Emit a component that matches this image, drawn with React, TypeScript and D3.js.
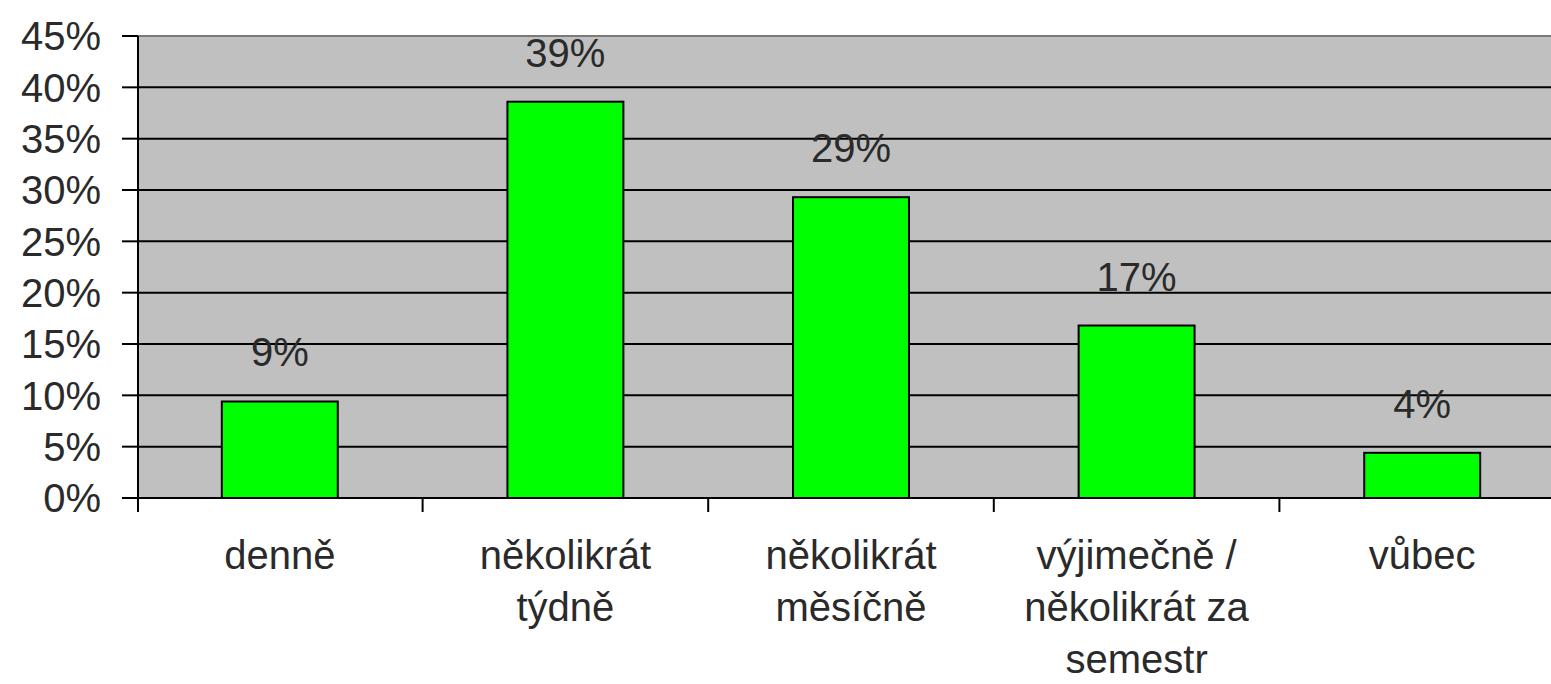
import React from "react";
import * as d3 from "d3";

const categories: string[][] = [
  ["denně"],
  ["několikrát", "týdně"],
  ["několikrát", "měsíčně"],
  ["výjimečně /", "několikrát za", "semestr"],
  ["vůbec"],
];
const values: number[] = [0.094, 0.386, 0.293, 0.168, 0.044];
const valueLabels: string[] = ["9%", "39%", "29%", "17%", "4%"];
const yTicks: number[] = [0, 0.05, 0.1, 0.15, 0.2, 0.25, 0.3, 0.35, 0.4, 0.45];

const W = 1551;
const H = 684;
const plotLeft = 138;
const plotRight = 1566;
const plotTop = 36;
const plotBottom = 498;

export default function App() {
  const keys = categories.map((c) => c.join(" "));
  const x = d3
    .scaleBand<string>()
    .domain(keys)
    .range([plotLeft - 1, plotRight - 1])
    .paddingInner(0.594)
    .paddingOuter(0.297);
  const step = x.step();
  const y = d3.scaleLinear().domain([0, 0.45]).range([plotBottom, plotTop]);
  const fmt = d3.format(".0%");
  const font = "'Liberation Sans', Arial, sans-serif";
  const textColor = "#2a2a2a";

  return (
    <svg
      width={W}
      height={H}
      style={{ position: "absolute", left: 0, top: 0, background: "#fff" }}
    >
      <rect
        x={plotLeft}
        y={plotTop}
        width={plotRight - plotLeft}
        height={plotBottom - plotTop}
        fill="#c0c0c0"
      />
      <line x1={plotLeft} x2={plotRight} y1={plotTop} y2={plotTop} stroke="#7a7a7a" strokeWidth={2} />
      {yTicks.map((t) => (
        <g key={t}>
          {t > 0 && t < 0.45 && (
            <line x1={plotLeft} x2={plotRight} y1={y(t)} y2={y(t)} stroke="#000" strokeWidth={2} />
          )}
          <line x1={122} x2={plotLeft} y1={y(t)} y2={y(t)} stroke="#000" strokeWidth={2} />
          <text
            x={101}
            y={y(t)}
            dy="0.36em"
            textAnchor="end"
            fontFamily={font}
            fontSize={40}
            fill={textColor}
          >
            {fmt(t)}
          </text>
        </g>
      ))}
      {keys.map((k, i) => (
        <g key={k}>
          <rect
            x={x(k)}
            y={y(values[i])}
            width={x.bandwidth()}
            height={plotBottom - y(values[i])}
            fill="#00ff00"
            stroke="#000"
            strokeWidth={2}
          />
          <text
            x={(x(k) as number) + x.bandwidth() / 2}
            y={y(values[i]) - 35}
            textAnchor="middle"
            fontFamily={font}
            fontSize={40}
            fill={textColor}
          >
            {valueLabels[i]}
          </text>
          {categories[i].map((line, j) => (
            <text
              key={j}
              x={(x(k) as number) + x.bandwidth() / 2}
              y={569 + j * 52}
              textAnchor="middle"
              fontFamily={font}
              fontSize={40}
              fill={textColor}
            >
              {line}
            </text>
          ))}
        </g>
      ))}
      <line x1={plotLeft} x2={plotRight} y1={plotBottom} y2={plotBottom} stroke="#000" strokeWidth={2} />
      <line x1={plotLeft} x2={plotLeft} y1={plotTop} y2={512} stroke="#000" strokeWidth={2} />
      {keys.map((k, i) => (
        <line
          key={"t" + i}
          x1={plotLeft - 1 + step * (i + 1)}
          x2={plotLeft - 1 + step * (i + 1)}
          y1={plotBottom}
          y2={512}
          stroke="#000"
          strokeWidth={2}
        />
      ))}
    </svg>
  );
}
